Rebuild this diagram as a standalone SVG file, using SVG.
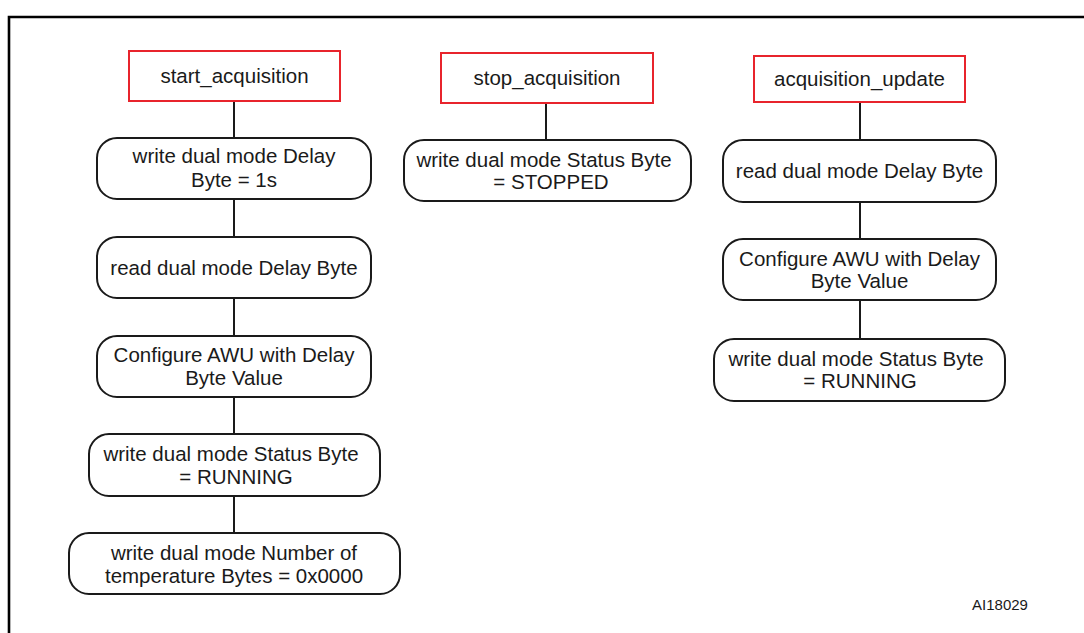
<svg xmlns="http://www.w3.org/2000/svg" width="1084" height="633" viewBox="0 0 1084 633">
<style>
.frame{fill:none;stroke:#000;stroke-width:2.6}
.start{fill:#fff;stroke:#e8242c;stroke-width:2}
.step{fill:#fff;stroke:#1a1a1a;stroke-width:2}
.conn{stroke:#1a1a1a;stroke-width:2;fill:none}
text{font-family:"Liberation Sans",Arial,sans-serif;font-size:20.5px;fill:#1a1a1a;text-anchor:middle}
.ref{font-size:15px}
</style>
<rect width="1084" height="633" fill="#fff"/>
<path class="frame" d="M9,640 V17 H1090"/>
<g id="connectors">
<line class="conn" x1="234" y1="101" x2="234" y2="138"/>
<line class="conn" x1="234" y1="199" x2="234" y2="237"/>
<line class="conn" x1="234" y1="298" x2="234" y2="336"/>
<line class="conn" x1="234" y1="397" x2="234" y2="434"/>
<line class="conn" x1="234" y1="496" x2="234" y2="533"/>
<line class="conn" x1="546" y1="103" x2="546" y2="140"/>
<line class="conn" x1="860" y1="102" x2="860" y2="140"/>
<line class="conn" x1="860" y1="202" x2="860" y2="239"/>
<line class="conn" x1="860" y1="300" x2="860" y2="339"/>
</g>
<g id="start_acquisition">
<rect class="start" x="129" y="51" width="211" height="50"/>
<text x="234.5" y="83">start_acquisition</text>
</g>
<g id="l_write_delay">
<rect class="step" x="97" y="138" width="274" height="61" rx="20"/>
<text x="234" y="163">write dual mode Delay</text>
<text x="234" y="187">Byte = 1s</text>
</g>
<g id="l_read_delay">
<rect class="step" x="97" y="237" width="274" height="61" rx="20"/>
<text x="234" y="275">read dual mode Delay Byte</text>
</g>
<g id="l_configure_awu">
<rect class="step" x="97" y="336" width="274" height="61" rx="20"/>
<text x="234" y="362">Configure AWU with Delay</text>
<text x="234" y="385">Byte Value</text>
</g>
<g id="l_write_status">
<rect class="step" x="89" y="434" width="291" height="62" rx="20"/>
<text x="231" y="461">write dual mode Status Byte</text>
<text x="236" y="484">= RUNNING</text>
</g>
<g id="l_write_number">
<rect class="step" x="69" y="533" width="331" height="61" rx="20"/>
<text x="234" y="560">write dual mode Number of</text>
<text x="234" y="583">temperature Bytes = 0x0000</text>
</g>
<g id="stop_acquisition">
<rect class="start" x="441" y="53" width="212" height="50"/>
<text x="547" y="85">stop_acquisition</text>
</g>
<g id="m_write_status">
<rect class="step" x="404" y="140" width="287" height="61" rx="20"/>
<text x="544" y="167">write dual mode Status Byte</text>
<text x="551" y="189">= STOPPED</text>
</g>
<g id="acquisition_update">
<rect class="start" x="754" y="56" width="211" height="46"/>
<text x="859.5" y="86">acquisition_update</text>
</g>
<g id="r_read_delay">
<rect class="step" x="723" y="140" width="273" height="62" rx="20"/>
<text x="859.5" y="178">read dual mode Delay Byte</text>
</g>
<g id="r_configure_awu">
<rect class="step" x="723" y="239" width="273" height="61" rx="20"/>
<text x="859.5" y="266">Configure AWU with Delay</text>
<text x="859.5" y="288">Byte Value</text>
</g>
<g id="r_write_status">
<rect class="step" x="714" y="339" width="291" height="62" rx="20"/>
<text x="856" y="366">write dual mode Status Byte</text>
<text x="860" y="388">= RUNNING</text>
</g>
<text class="ref" x="1000" y="610">AI18029</text>
</svg>
